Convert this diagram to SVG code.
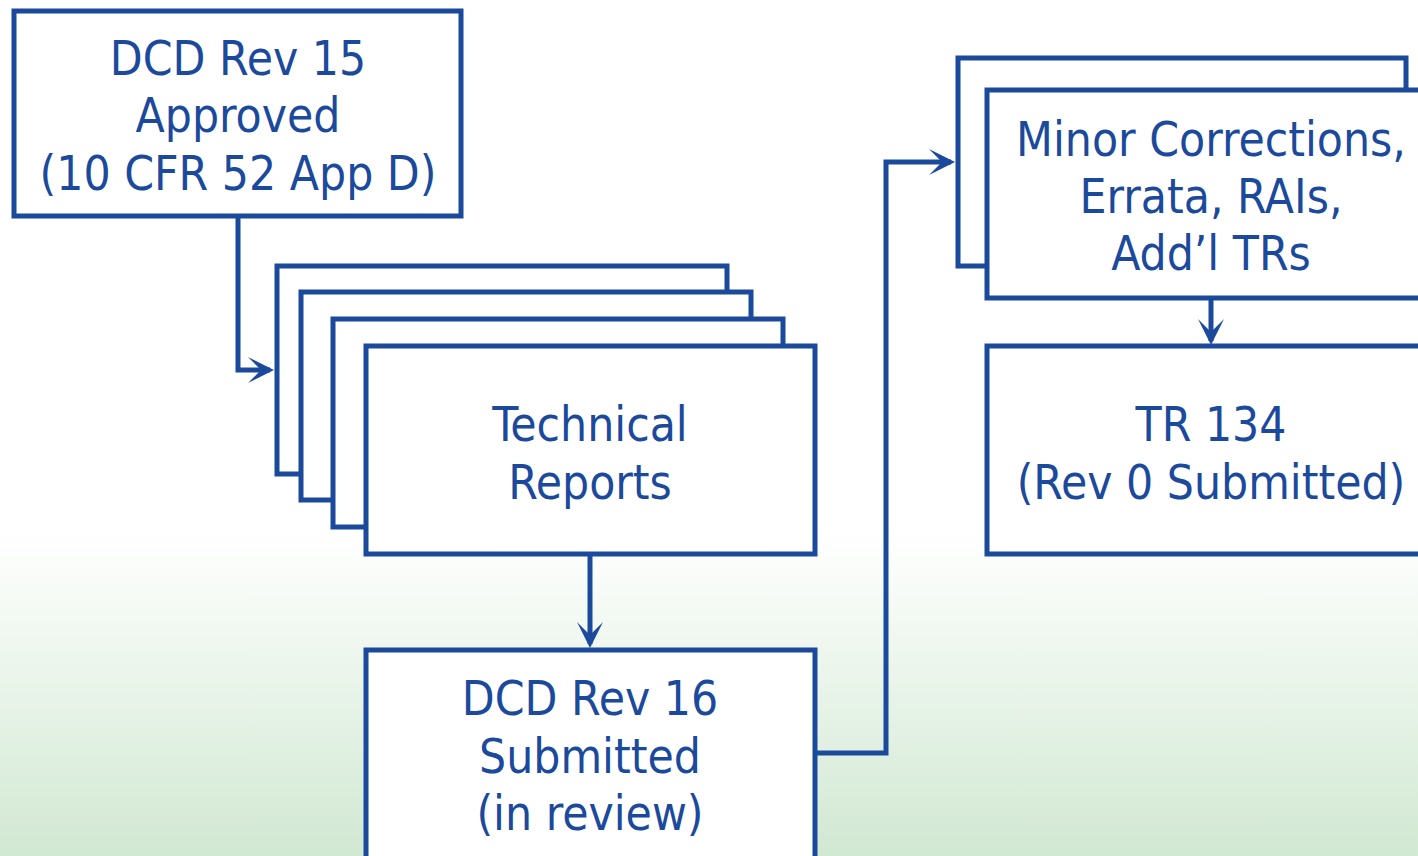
<svg xmlns="http://www.w3.org/2000/svg" width="1418" height="856" viewBox="0 0 1418 856">
<defs>
<linearGradient id="bg" x1="0" y1="0" x2="0" y2="1">
<stop offset="0" stop-color="#ffffff"/>
<stop offset="0.62" stop-color="#ffffff"/>
<stop offset="1" stop-color="#d1e8d2"/>
</linearGradient>
<marker id="ah" markerUnits="userSpaceOnUse" markerWidth="32" markerHeight="32" viewBox="-26 -16 32 32" refX="0" refY="0" orient="auto">
<path d="M4,0 L-22,-13 L-9,0 L-22,13 Z" fill="#1b4a9c"/>
</marker>
<style>
.box{fill:#ffffff;stroke:#1b4a9c;stroke-width:5}
.t{font-family:"DejaVu Sans Condensed","DejaVu Sans",sans-serif;font-size:47.5px;fill:#1b4a9c;text-anchor:middle}
.c{fill:none;stroke:#1b4a9c;stroke-width:5}
</style>
</defs>
<rect x="0" y="0" width="1418" height="856" fill="url(#bg)"/>
<g id="connectors">
<path class="c" d="M238,216 V370 H270" marker-end="url(#ah)"/>
<path class="c" d="M590,554 V644" marker-end="url(#ah)"/>
<path class="c" d="M815,753 H886 V162 H951" marker-end="url(#ah)"/>
<path class="c" d="M1211,298 V341" marker-end="url(#ah)"/>
</g>
<g id="dcd15">
<rect class="box" x="14" y="11" width="447" height="205"/>
<text class="t" x="238" y="75">DCD Rev 15</text>
<text class="t" x="238" y="132">Approved</text>
<text class="t" x="238" y="190">(10 CFR 52 App D)</text>
</g>
<g id="tr-stack">
<rect class="box" x="277" y="266" width="450" height="208"/>
<rect class="box" x="301" y="292" width="450" height="208"/>
<rect class="box" x="333" y="319" width="450" height="208"/>
<rect class="box" x="366" y="346" width="449" height="208"/>
<text class="t" x="590" y="441">Technical</text>
<text class="t" x="590" y="499">Reports</text>
</g>
<g id="dcd16">
<rect class="box" x="366" y="650" width="449" height="220"/>
<text class="t" x="590" y="715">DCD Rev 16</text>
<text class="t" x="590" y="773">Submitted</text>
<text class="t" x="590" y="830">(in review)</text>
</g>
<g id="minor-stack">
<rect class="box" x="958" y="58" width="448" height="208"/>
<rect class="box" x="987" y="90" width="460" height="208"/>
<text class="t" x="1211" y="156">Minor Corrections,</text>
<text class="t" x="1211" y="213">Errata, RAIs,</text>
<text class="t" x="1211" y="270">Add’l TRs</text>
</g>
<g id="tr134">
<rect class="box" x="987" y="346" width="460" height="208"/>
<text class="t" x="1211" y="441">TR 134</text>
<text class="t" x="1211" y="499">(Rev 0 Submitted)</text>
</g>
</svg>
